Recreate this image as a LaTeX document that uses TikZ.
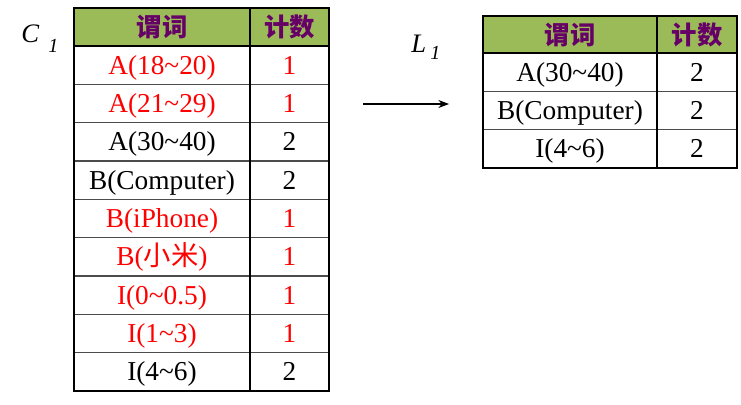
\documentclass[tikz,border=0pt]{standalone}
\usepackage{fontspec}
\setmainfont{Liberation Serif}
\newfontfamily\cjk{Noto Sans CJK SC}
\usetikzlibrary{arrows.meta}
\definecolor{hdrgreen}{RGB}{155,187,89}
\definecolor{hdrpurple}{RGB}{102,0,102}
\definecolor{rowred}{RGB}{255,0,0}
\tikzset{
  cell/.style={inner sep=0pt, anchor=base, font=\fontsize{20.5}{24}\selectfont},
  head/.style={inner sep=0pt, text=hdrpurple, font=\cjk\bfseries\fontsize{19}{22}\selectfont},
  setname/.style={inner sep=0pt, anchor=base west, font=\itshape\fontsize{20}{24}\selectfont},
  setsub/.style={inner sep=0pt, anchor=base west, font=\itshape\fontsize{15}{17}\selectfont},
  sepline/.style={line width=1pt, draw=black!70},
  frame/.style={line width=1.5pt, draw=black},
}

\begin{document}
\begin{tikzpicture}[x=0.75pt, y=-0.75pt]
            \useasboundingbox (0,0) rectangle (741,404);

            % candidate set C1
            \node[setname] (lblC) at (21,42) {C};
            \node[setsub] (lblCsub) at (48,52) {1};
            \fill[hdrgreen] (74,8) rectangle (329,46);
            \node[head] (c1head) at (162,27) {谓词};
            \node[head] (c1cnt) at (289.5,27) {计数};
            \foreach \txt/\num/\col [count=\i] in {
                    A(18\textasciitilde 20)/1/rowred,
                    A(21\textasciitilde 29)/1/rowred,
                    A(30\textasciitilde 40)/2/black,
                    B(Computer)/2/black,
                    B(iPhone)/1/rowred,
                    B({\cjk 小米})/1/rowred,
                    I(0\textasciitilde 0.5)/1/rowred,
                    I(1\textasciitilde 3)/1/rowred,
                    I(4\textasciitilde 6)/2/black}{
                    \node[cell, text=\col] (c1p\i) at (162,{46+38.33*(\i-0.5)+9}) {\txt};
                    \node[cell, text=\col] (c1n\i) at (289.5,{46+38.33*(\i-0.5)+9}) {\num};
                    \ifnum\i>1
                      \draw[sepline] (74,{46+38.33*(\i-1)}) -- (329,{46+38.33*(\i-1)});
                    \fi
                }
            \draw[line width=2.2pt] (74,46) -- (329,46);
            \draw[line width=2.2pt] (250,8) -- (250,391);
            \draw[frame] (74,8) rectangle (329,391);

            % arrow
            \coordinate (arrS) at (363,104);
            \coordinate (arrE) at (449,104);
            \draw[line width=0.8pt, -{Stealth[length=8pt, width=6pt]}] (arrS) -- (arrE);

            % frequent set L1
            \node[setname] (lblL) at (411,52) {L};
            \node[setsub] (lblLsub) at (430,59) {1};
            \fill[hdrgreen] (483,16) rectangle (737,53);
            \node[head] (l1head) at (570,35) {谓词};
            \node[head] (l1cnt) at (697,35) {计数};
            \foreach \txt/\num [count=\i] in {
                    A(30\textasciitilde 40)/2,
                    B(Computer)/2,
                    I(4\textasciitilde 6)/2}{
                    \node[cell] (l1p\i) at (570,{53+38.33*(\i-0.5)+9}) {\txt};
                    \node[cell] (l1n\i) at (697,{53+38.33*(\i-0.5)+9}) {\num};
                    \ifnum\i>1
                      \draw[sepline] (483,{53+38.33*(\i-1)}) -- (737,{53+38.33*(\i-1)});
                    \fi
                }
            \draw[line width=2.2pt] (483,53) -- (737,53);
            \draw[line width=2.2pt] (657,16) -- (657,168);
            \draw[frame] (483,16) rectangle (737,168);
\end{tikzpicture}
\end{document}
